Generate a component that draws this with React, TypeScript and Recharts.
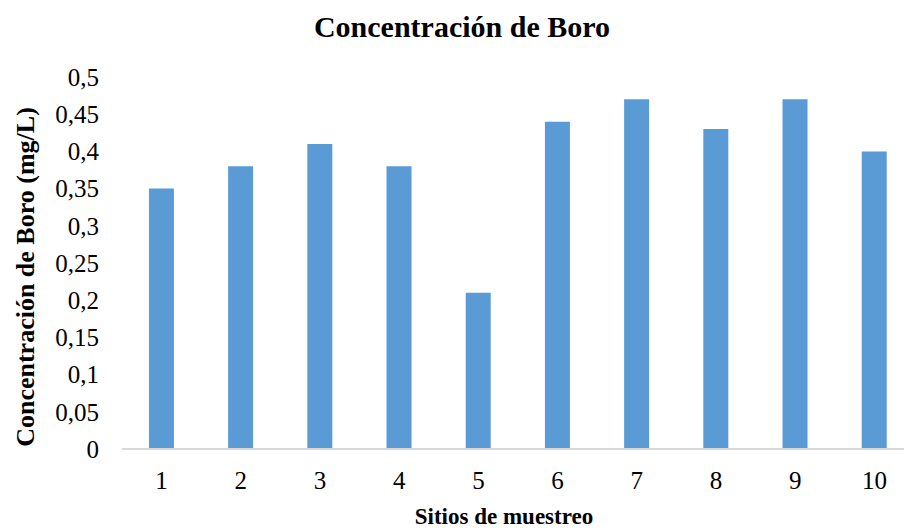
import { Bar, BarChart, Label, XAxis, YAxis } from "recharts"

const SITES = ["1", "2", "3", "4", "5", "6", "7", "8", "9", "10"]
const BORON = [0.35, 0.38, 0.41, 0.38, 0.21, 0.44, 0.47, 0.43, 0.47, 0.4]
const Y_TICKS = [0, 0.05, 0.1, 0.15, 0.2, 0.25, 0.3, 0.35, 0.4, 0.45, 0.5]

const FONT = "Liberation Serif, Times New Roman, Times, DejaVu Serif, serif"
const BAR_COLOR = "#5B9BD5"

const data = SITES.map((site, i) => ({ site, boro: BORON[i] }))

// Excel-style decimal comma
const fmt = (v: number) => String(v).replace(".", ",")

export default function App() {
  return (
    <div
      style={{
        position: "absolute",
        left: 0,
        top: 0,
        width: 904,
        height: 529,
        overflow: "hidden",
        background: "#fff",
        fontFamily: FONT,
      }}
    >
      <div
        style={{
          position: "absolute",
          top: 9,
          left: 0,
          width: 924,
          textAlign: "center",
          fontSize: 30,
          lineHeight: "36px",
          fontWeight: 700,
          color: "#000",
          fontFamily: FONT,
        }}
      >
        Concentración de Boro
      </div>
      <BarChart
        width={920}
        height={529}
        data={data}
        margin={{ top: 77, right: 6, bottom: 0, left: 0 }}
        barCategoryGap="34%"
        style={{ fontFamily: FONT }}
      >
        <XAxis
          dataKey="site"
          height={80}
          axisLine={{ stroke: "#D9D9D9", strokeWidth: 2 }}
          tickLine={false}
          tickSize={0}
          tickMargin={22}
          tick={{ fill: "#000", fontSize: 25, fontFamily: FONT }}
        >
          <Label
            content={() => (
              <text
                x={504}
                y={524}
                textAnchor="middle"
                style={{ fontFamily: FONT, fontSize: 23, fontWeight: 700 }}
                fill="#000"
              >
                Sitios de muestreo
              </text>
            )}
          />
        </XAxis>
        <YAxis
          width={122}
          domain={[0, 0.5]}
          ticks={Y_TICKS}
          interval={0}
          axisLine={false}
          tickLine={false}
          tickSize={0}
          tickMargin={23}
          tickFormatter={fmt}
          tick={{ fill: "#000", fontSize: 25, fontFamily: FONT }}
        >
          <Label
            content={() => (
              <text
                x={25}
                y={277}
                transform="rotate(-90 25 277)"
                textAnchor="middle"
                dominantBaseline="central"
                style={{ fontFamily: FONT, fontSize: 26, fontWeight: 700 }}
                fill="#000"
              >
                Concentración de Boro (mg/L)
              </text>
            )}
          />
        </YAxis>
        <Bar dataKey="boro" fill={BAR_COLOR} isAnimationActive={false} />
      </BarChart>
    </div>
  )
}
